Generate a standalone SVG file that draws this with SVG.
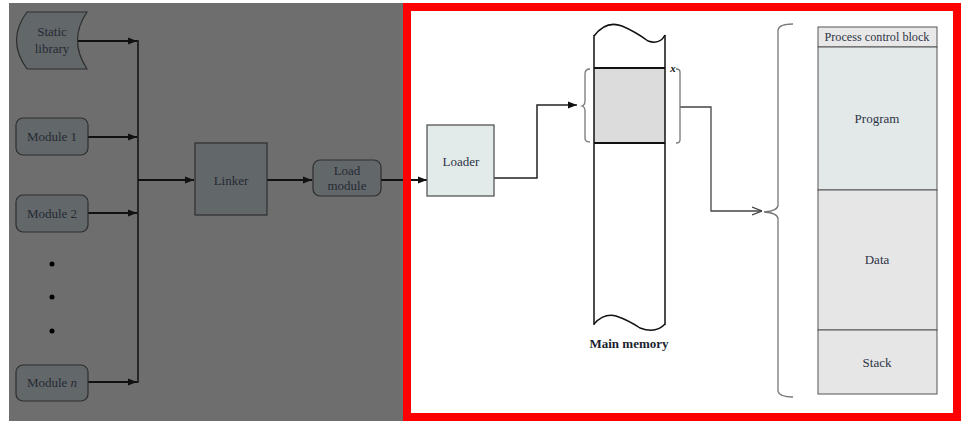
<svg xmlns="http://www.w3.org/2000/svg" width="967" height="427" viewBox="0 0 967 427">
<defs>
<style>
text{font-family:"Liberation Serif","Times New Roman",serif;}
.dk{fill:#262a34;font-size:13px;text-anchor:middle;}
.lt{fill:#2c3445;font-size:13px;text-anchor:middle;}
.dbox{fill:#62676a;stroke:#2e2e2e;stroke-width:1.2;}
.bus{stroke:#111;stroke-width:2;fill:none;}
.thin{stroke:#444;stroke-width:1.3;fill:none;}
.gray{stroke:#777;stroke-width:1.3;fill:none;}
</style>
<marker id="ah2" viewBox="0 0 10 10" refX="10" refY="5" markerWidth="9" markerHeight="9" orient="auto" markerUnits="userSpaceOnUse">
<path d="M0,1 L10,5 L0,9 Z" fill="#111"/>
</marker>
<marker id="open" viewBox="0 0 10 10" refX="10" refY="5" markerWidth="10" markerHeight="10" orient="auto" markerUnits="userSpaceOnUse">
<path d="M0,1 L10,5 L0,9" fill="none" stroke="#444" stroke-width="1.3"/>
</marker>
</defs>
<rect x="0" y="0" width="967" height="427" fill="#ffffff"/>
<rect x="9" y="3" width="394" height="418" fill="#6e6e6e"/>
<rect x="407" y="7" width="550" height="410" fill="#ffffff" stroke="#ff0000" stroke-width="8"/>

<g id="connectors">
<line x1="76" y1="41" x2="137" y2="41" class="bus" marker-end="url(#ah2)"/>
<line x1="88" y1="137" x2="137" y2="137" class="bus" marker-end="url(#ah2)"/>
<line x1="88" y1="213" x2="137" y2="213" class="bus" marker-end="url(#ah2)"/>
<line x1="88" y1="382" x2="137" y2="382" class="bus" marker-end="url(#ah2)"/>
<line x1="138" y1="40" x2="138" y2="383" stroke="#111" stroke-width="1.5"/>
<line x1="138" y1="180" x2="194" y2="180" class="bus" marker-end="url(#ah2)"/>
<line x1="267" y1="180" x2="312" y2="180" class="bus" marker-end="url(#ah2)"/>
<line x1="381" y1="180" x2="403" y2="180" class="bus"/>
<line x1="411" y1="180" x2="427" y2="180" class="bus" marker-end="url(#ah2)"/>
<polyline points="494,178 537,178 537,105 577,105" fill="none" stroke="#222" stroke-width="1.5" marker-end="url(#ah2)"/>
<polyline points="680,107 711,107 711,211 762,211" class="thin" marker-end="url(#open)"/>
</g>

<g id="static-library">
<path d="M27,12 L87,12 Q68,40 87,69 L27,69 Q6,40 27,12 Z" class="dbox"/>
<text x="52" y="36" class="dk">Static</text>
<text x="52" y="53" class="dk">library</text>
</g>
<g id="module-1">
<rect x="16" y="118" width="72" height="37" rx="7" class="dbox"/>
<text x="52" y="141" class="dk">Module 1</text>
</g>
<g id="module-2">
<rect x="16" y="195" width="72" height="37" rx="7" class="dbox"/>
<text x="52" y="218" class="dk">Module 2</text>
</g>
<g id="dots" fill="#000">
<circle cx="52" cy="264" r="2.5"/>
<circle cx="52" cy="297" r="2.5"/>
<circle cx="52" cy="331" r="2.5"/>
</g>
<g id="module-n">
<rect x="16" y="365" width="72" height="36" rx="7" class="dbox"/>
<text x="52" y="387" class="dk">Module <tspan font-style="italic">n</tspan></text>
</g>
<g id="linker">
<rect x="195" y="143" width="72" height="72" class="dbox"/>
<text x="231" y="185" class="dk">Linker</text>
</g>
<g id="load-module">
<rect x="313" y="160" width="68" height="36" rx="7" class="dbox"/>
<text x="347" y="175" class="dk">Load</text>
<text x="347" y="190" class="dk">module</text>
</g>

<g id="loader">
<rect x="427" y="125" width="67" height="71" fill="#e3eaea" stroke="#555" stroke-width="1.3"/>
<text x="461" y="166" class="lt">Loader</text>
</g>

<g id="main-memory">
<rect x="594" y="68" width="71" height="75" fill="#dcdcdd"/>
<path d="M594,36 Q606,20 622,26 Q636,32 648,41 Q660,45 665,35" fill="none" stroke="#111" stroke-width="1.5"/>
<line x1="594" y1="35" x2="594" y2="325" stroke="#111" stroke-width="1.5"/>
<line x1="665" y1="35" x2="665" y2="325" stroke="#111" stroke-width="1.5"/>
<path d="M594,324 Q604,313 616,316 Q628,320 640,328 Q656,334 665,324" fill="none" stroke="#111" stroke-width="1.5"/>
<line x1="594" y1="68" x2="665" y2="68" stroke="#111" stroke-width="2"/>
<line x1="594" y1="143" x2="665" y2="143" stroke="#111" stroke-width="2"/>
<path d="M590,69 Q585,69 585,74 L585,101 Q585,105 582,106 Q585,107 585,111 L585,138 Q585,142 590,142" class="gray"/>
<path d="M676,69 Q680,69 680,72 L680,140 Q680,143 676,143" class="gray"/>
<text x="673" y="72" font-size="11" font-style="italic" font-weight="bold" fill="#111" text-anchor="middle">x</text>
<text x="629" y="348" font-size="13" font-weight="bold" fill="#1a1f30" text-anchor="middle">Main memory</text>
</g>

<g id="process-image">
<path d="M793,24 Q779,24 778,30 L778,205 Q778,211 764,212 Q778,213 778,219 L778,391 Q779,397 793,397" class="gray"/>
<rect x="818" y="27" width="119" height="20" fill="#e8e8e8" stroke="#555" stroke-width="1"/>
<rect x="818" y="47" width="119" height="143" fill="#e3e8e8" stroke="#555" stroke-width="1"/>
<rect x="818" y="190" width="119" height="140" fill="#e6e6e6" stroke="#555" stroke-width="1"/>
<rect x="818" y="330" width="119" height="64" fill="#e6e6e6" stroke="#555" stroke-width="1"/>
<text x="877" y="41" style="font-size:12.2px" class="lt">Process control block</text>
<text x="877" y="123" class="lt">Program</text>
<text x="877" y="264" class="lt">Data</text>
<text x="877" y="367" class="lt">Stack</text>
</g>
</svg>
